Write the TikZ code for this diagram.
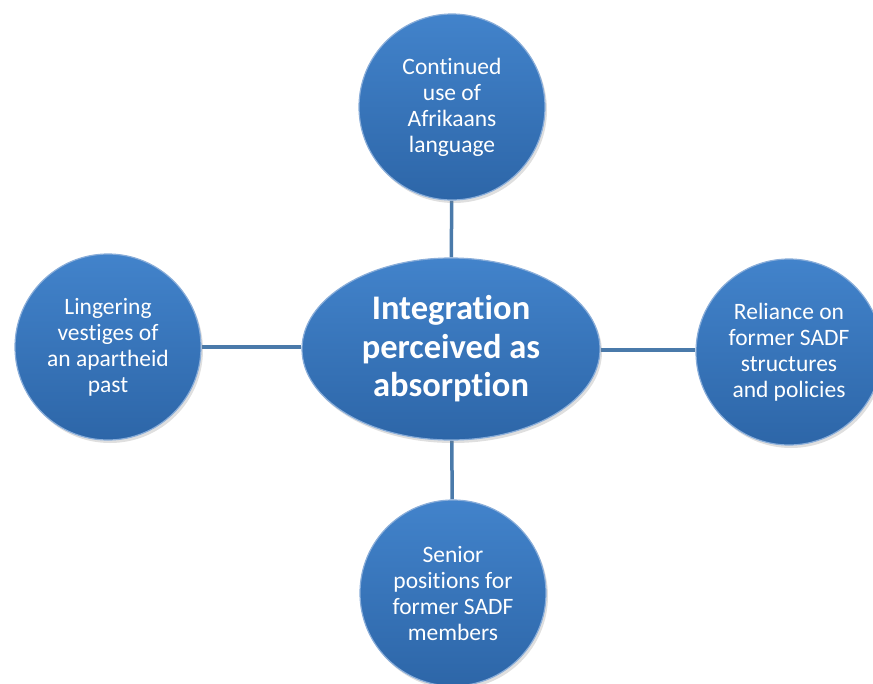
\documentclass[tikz,border=0pt]{standalone}
\usepackage{fontspec}
\setmainfont[Ligatures=NoCommon]{Carlito}
\usetikzlibrary{shadows,backgrounds,shapes.geometric}
\definecolor{ballblue}{HTML}{3A77BF}
\definecolor{balltop}{HTML}{4283CB}
\definecolor{ballbot}{HTML}{2D66A8}
\definecolor{linkblue}{HTML}{4A7AAA}
\tikzset{
  ball/.style={circle, minimum size=186pt, inner sep=0pt, align=center,
    text=white, top color=balltop, bottom color=ballbot, draw=ballblue!60!white, line width=1.2pt,
    drop shadow={shadow xshift=2pt, shadow yshift=-3pt, opacity=0.25},
    font=\fontsize{23.5}{26}\selectfont},
  hub/.style={ellipse, minimum width=298pt, minimum height=182pt, inner sep=0pt, align=center,
    text=white, top color=balltop, bottom color=ballbot, draw=ballblue!60!white, line width=1.2pt,
    drop shadow={shadow xshift=2pt, shadow yshift=-3pt, opacity=0.25},
    font=\fontsize{34.5}{38.5}\selectfont\bfseries},
  link/.style={draw=linkblue, line width=3.5pt}
}
\begin{document}
\begin{tikzpicture}[x=1pt,y=-1pt]
\useasboundingbox (0,0) rectangle (873,683);
\clip (0,0) rectangle (873,683);
\node[hub] (c) at (451,349) {Integration\\perceived as\\absorption};
\node[ball] (t) at (452,107) {Continued\\use of\\Afrikaans\\language};
\node[ball] (l) at (108,347) {Lingering\\vestiges of\\an apartheid\\past};
\node[ball] (r) at (789,352) {Reliance on\\former SADF\\structures\\and policies};
\node[ball] (b) at (453,593) {Senior\\positions for\\former SADF\\members};
\coordinate (rl) at (r.west |- 0,350);
\begin{scope}[on background layer]
\draw[link] (t) -- (c);
\draw[link] (l.east) -- (l.east -| c.west);
\draw[link] (c.east |- rl) -- (rl);
\draw[link] (c) -- (b);
\end{scope}
\end{tikzpicture}
\end{document}
